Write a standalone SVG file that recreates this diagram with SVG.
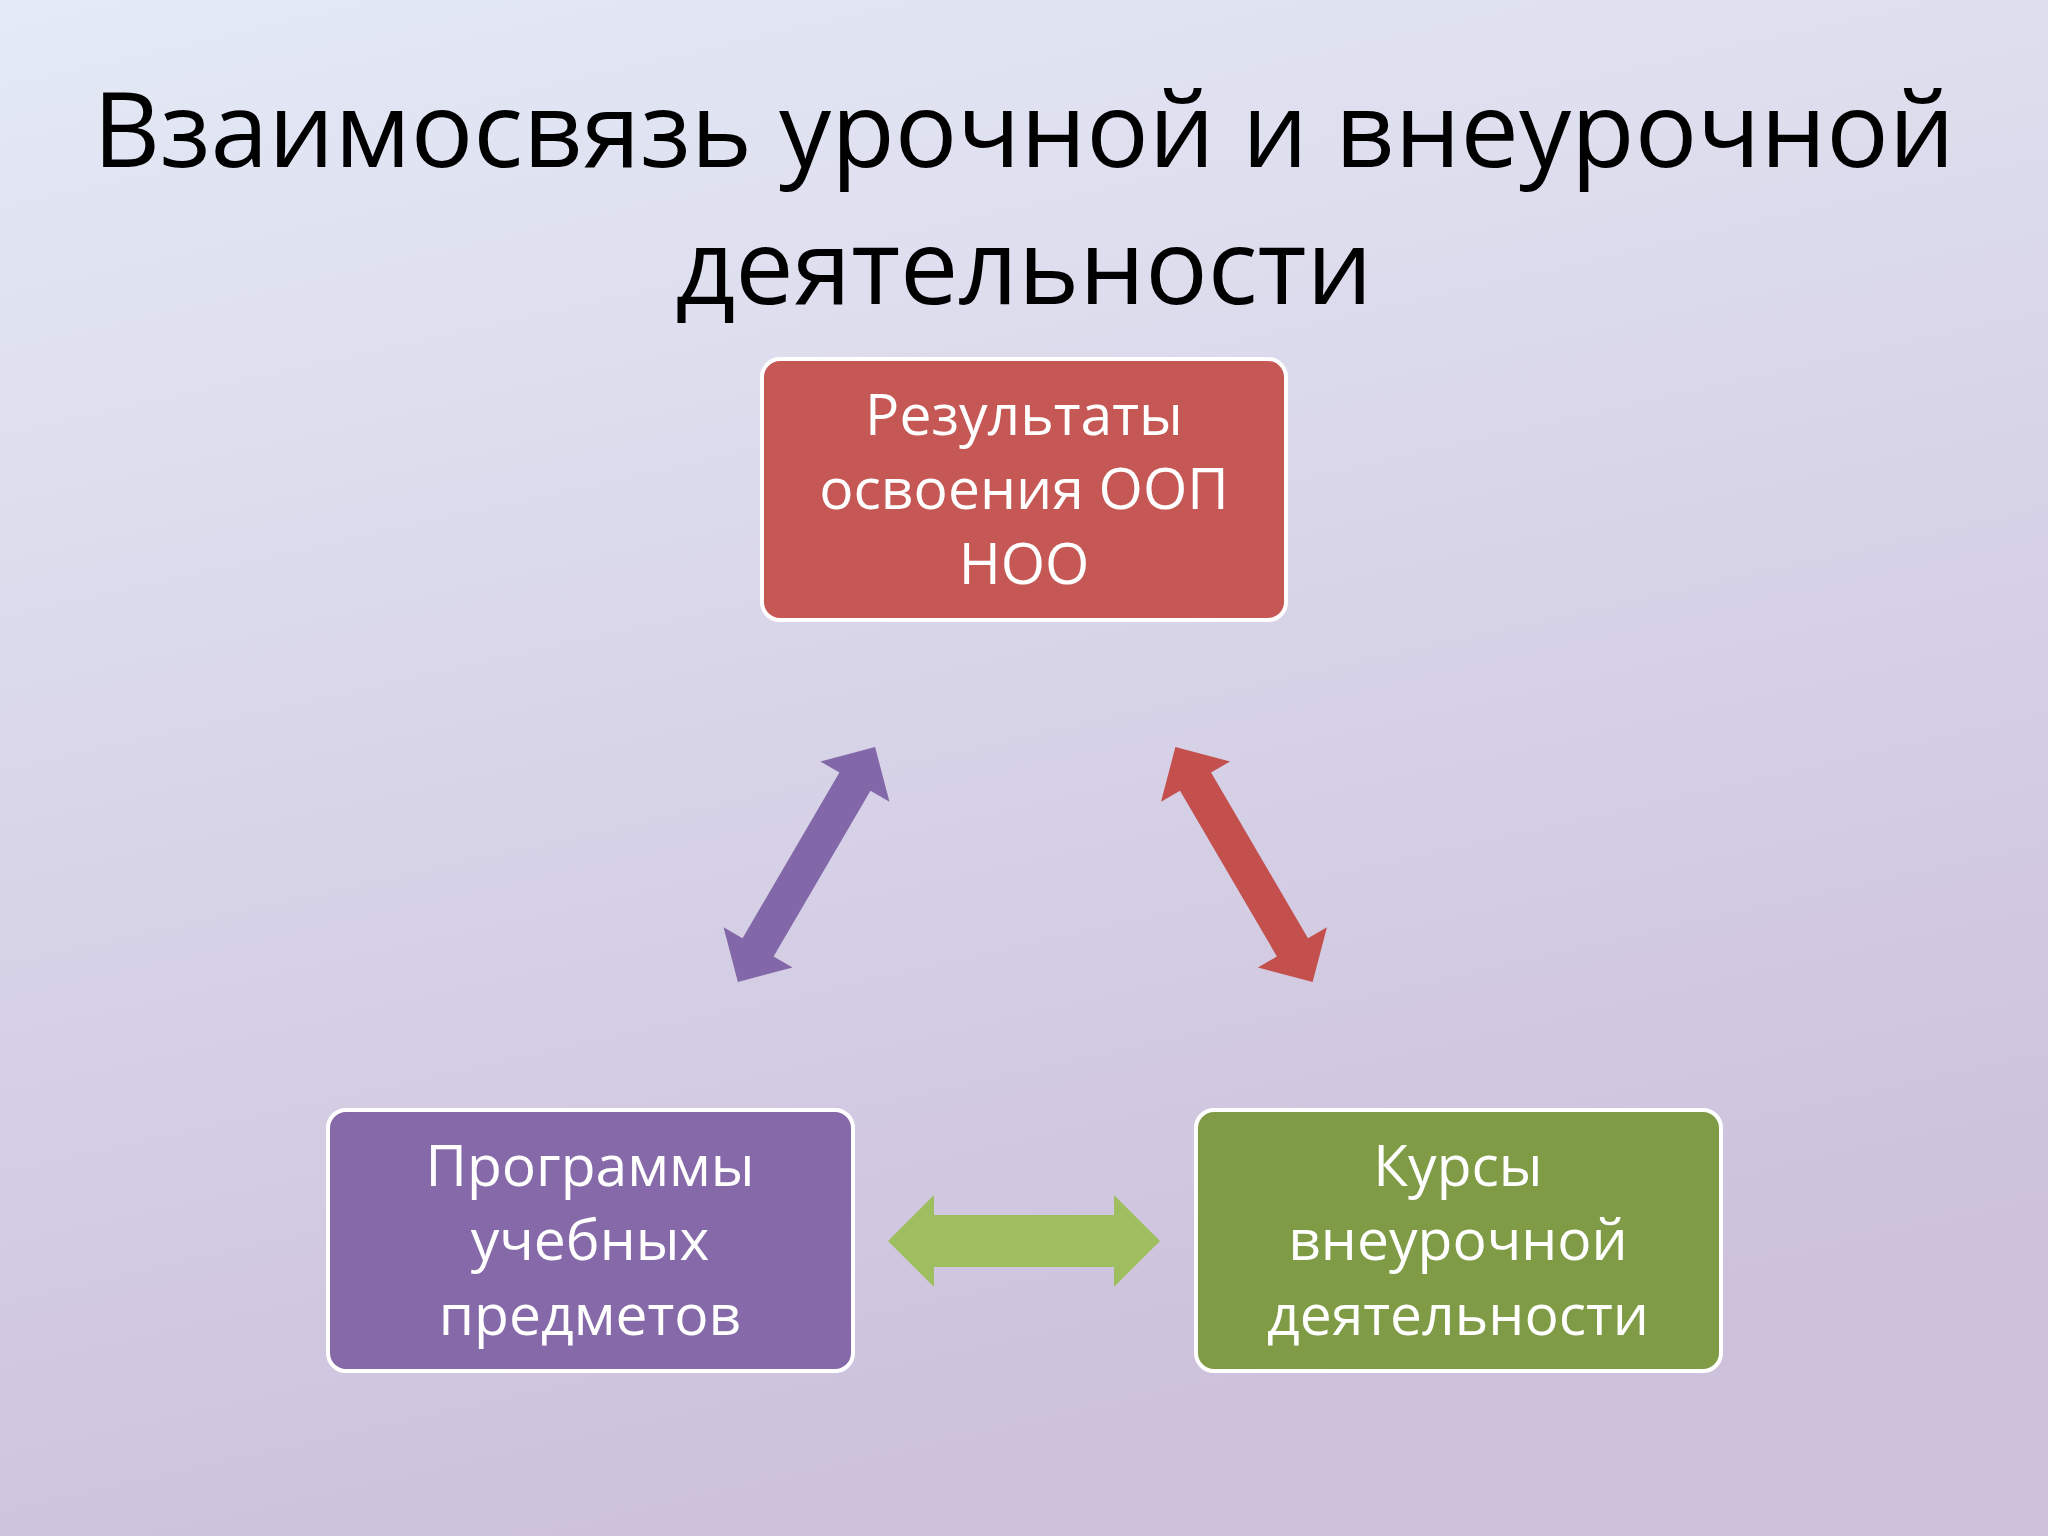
<svg xmlns="http://www.w3.org/2000/svg" width="2048" height="1536" viewBox="0 0 2048 1536">
<defs>
<linearGradient id="bg" x1="0" y1="0" x2="0.3" y2="1"><stop offset="0" stop-color="#e4eaf6"/><stop offset="1" stop-color="#cdc1dc"/></linearGradient>
<polygon id="da" points="-136,0 -96,-40 -96,-18 96,-18 96,-40 136,0 96,40 96,18 -96,18 -96,40"/>
</defs>
<style>
.box{stroke:#fff;stroke-width:4}
.t{font-family:"Open Sans","Noto Sans",sans-serif;fill:#fff;font-size:57px;text-anchor:middle}
.title{font-family:"Open Sans","Noto Sans",sans-serif;fill:#000;font-size:104px;text-anchor:middle}
</style>
<rect width="2048" height="1536" fill="url(#bg)"/>
<g id="title"><text class="title" x="1024" y="167">Взаимосвязь урочной и внеурочной</text><text class="title" x="1024" y="304">деятельности</text></g>
<g id="connectors">
<use href="#da" fill="#8268a8" transform="translate(806.5,864.5) rotate(-59.7)"/>
<use href="#da" fill="#c4504d" transform="translate(1244,864.5) rotate(59.7)"/>
<polygon fill="#9fbe5f" points="888,1241 934,1195 934,1215 1114,1215 1114,1195 1160,1241 1114,1287 1114,1267 934,1267 934,1287"/>
</g>
<g id="top"><rect class="box" x="762" y="359" width="524" height="261" rx="18" fill="#c55854"/><text class="t" x="1024" y="435">Результаты</text><text class="t" x="1024" y="509">освоения ООП</text><text class="t" x="1024" y="584">НОО</text></g>
<g id="left"><rect class="box" x="328" y="1110" width="525" height="261" rx="18" fill="#8669a8"/><text class="t" x="590" y="1186">Программы</text><text class="t" x="590" y="1260">учебных</text><text class="t" x="590" y="1335">предметов</text></g>
<g id="right"><rect class="box" x="1196" y="1110" width="525" height="261" rx="18" fill="#7f9b46"/><text class="t" x="1458" y="1186">Курсы</text><text class="t" x="1458" y="1260">внеурочной</text><text class="t" x="1458" y="1335">деятельности</text></g>
</svg>
